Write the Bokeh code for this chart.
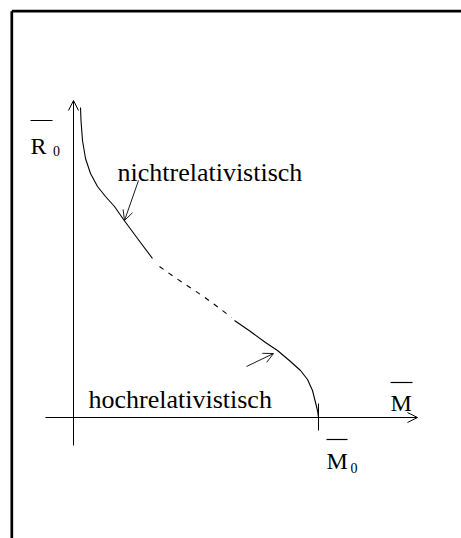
from bokeh.plotting import figure
from bokeh.models import Range1d, Arrow, OpenHead, ColumnDataSource
from bokeh.core.properties import value
from bokeh.embed import file_html
from bokeh.resources import INLINE

# Schematic mass-radius relation of a white dwarf (arbitrary units, M0 = 245)
m_nonrel = [7, 7.5, 9, 12, 17, 24, 32, 41, 50, 64, 79]
r_nonrel = [310, 297, 277, 259, 244, 231, 221, 211, 198, 179, 159]

m_trans = [86, 100, 115, 130, 145, 158]
r_trans = [151, 141, 131, 121, 110, 100]

m_rel = [161, 177, 192, 204, 217, 227, 234, 239, 242, 244, 245]
r_rel = [97, 86, 75, 67, 56, 47, 38, 27, 15, 7, 0]

M0 = 245

FONT = value("Liberation Serif")
INK = "#000000"

p = figure(width=461, height=538, output_backend="svg", toolbar_location=None,
           x_range=Range1d(-73, 388), y_range=Range1d(-121, 417),
           min_border=0)
p.axis.visible = False
p.grid.visible = False
p.outline_line_color = None
p.background_fill_color = "white"
p.border_fill_color = "white"

# page frame (left and top edges)
p.segment(x0=[-61.7, -61.7], y0=[-121, 406.3], x1=[-61.7, 388], y1=[406.3, 406.3],
          line_color=INK, line_width=2.7)

# coordinate axes with open arrow heads
p.add_layout(Arrow(end=OpenHead(size=10, line_width=1, line_color=INK),
                   x_start=0, y_start=-28, x_end=0, y_end=317,
                   line_width=1, line_color=INK))
p.add_layout(Arrow(end=OpenHead(size=10, line_width=1, line_color=INK),
                   x_start=-28, y_start=0, x_end=344, y_end=0,
                   line_width=1, line_color=INK))

# tick marking M0
p.line([M0, M0], [14, -13], line_color=INK, line_width=1)

# curve: solid branches joined by a dashed transition
p.line(m_nonrel, r_nonrel, line_color=INK, line_width=1.1)
p.line(m_trans, r_trans, line_color=INK, line_width=1.1, line_dash="5 6")
p.line(m_rel, r_rel, line_color=INK, line_width=1.1)

# pointer arrows to the two regimes
p.add_layout(Arrow(end=OpenHead(size=10, line_width=0.9, line_color=INK),
                   x_start=65, y_start=237, x_end=51, y_end=197,
                   line_width=0.9, line_color=INK))
p.add_layout(Arrow(end=OpenHead(size=10, line_width=0.9, line_color=INK),
                   x_start=173, y_start=51, x_end=200, y_end=64,
                   line_width=0.9, line_color=INK))

# regime labels
labels = ColumnDataSource(dict(
    x=[44, 15], y=[245, 18],
    t=["nichtrelativistisch", "hochrelativistisch"]))
p.text("x", "y", text="t", source=labels, text_font=FONT,
       text_font_size="26px", text_color=INK, text_baseline="alphabetic",
       text_align="left")

# axis symbols
syms = ColumnDataSource(dict(x=[-43, 317, 253], y=[272, 15, -43],
                             t=["R", "M", "M"]))
p.text("x", "y", text="t", source=syms, text_font=FONT,
       text_font_size="24px", text_color=INK, text_baseline="alphabetic",
       text_align="left")
subs = ColumnDataSource(dict(x=[-20.5, 277], y=[267, -50], t=["0", "0"]))
p.text("x", "y", text="t", source=subs, text_font=FONT,
       text_font_size="14px", text_color=INK, text_baseline="alphabetic",
       text_align="left")

# bars over the symbols
p.segment(x0=[-43, 317, 253], y0=[297, 35, -22],
          x1=[-21, 339, 274], y1=[297, 35, -22],
          line_color=INK, line_width=1.2)

open("out.html", "w").write(file_html(p, INLINE))
